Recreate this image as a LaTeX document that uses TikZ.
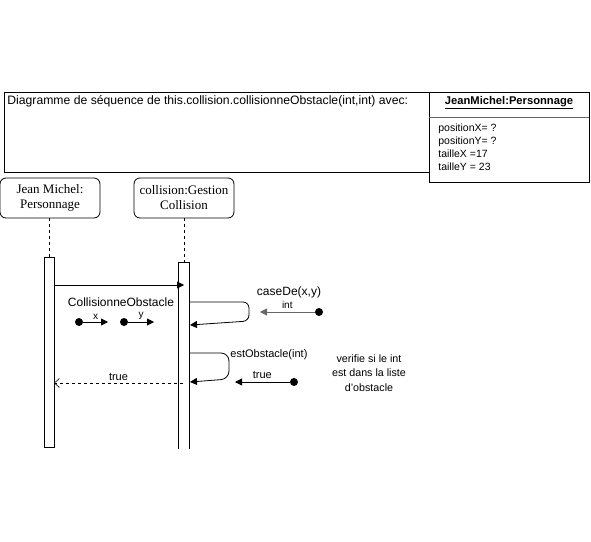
\documentclass[tikz,border=0pt]{standalone}
\usepackage{fontspec}
\setmainfont{Liberation Sans}
\newfontfamily\lifefont{Liberation Serif}
\usetikzlibrary{arrows.meta}

\begin{document}
\begin{tikzpicture}[x = 1pt, y = -1pt, line width = 0.8pt,
                    lifeline/.style = {draw, rounded corners = 6pt, minimum width = 100pt, minimum height = 40pt,
                                       inner sep = 0pt, align = center, font = \lifefont\fontsize{13}{15}\selectfont},
                    bar/.style = {draw, fill = white, minimum width = 10pt, inner sep = 0pt},
                    dot/.style = {circle, fill = black, minimum size = 8pt, inner sep = 0pt},
                    msg/.style = {-{Triangle[length = 7pt, width = 7pt]}},
                    back/.style = {dashed, -{Straight Barb[length = 5pt, width = 9pt, line width = 0.6pt]}},
                    lbl/.style = {font = \fontsize{10}{12}\selectfont, inner sep = 0pt}]
  \useasboundingbox (0, 0) rectangle (591, 541);
  % frame and object box
  \node [draw, minimum width = 425pt, minimum height = 80pt, inner sep = 0pt, anchor = north west] (F) at (4, 92) {};
  \node [anchor = north west, inner sep = 0pt, font = \fontsize{12.2}{14}\selectfont] (Ftitle) at (7, 95)
        {Diagramme de séquence de this.collision.collisionneObstacle(int,int) avec:};
  \node [draw, fill = white, minimum width = 160pt, minimum height = 90pt, inner sep = 0pt, anchor = north west] (Obj) at (429, 92) {};
  \node [inner sep = 0pt, font = \bfseries\fontsize{11.2}{13}\selectfont] (ObjName) at (509, 103) {\underline{JeanMichel:Personnage}};
  \draw [black!60] (Obj.north west) ++(0, 25) -- ++(160, 0);
  \node [anchor = north west, align = left, inner sep = 0pt, font = \fontsize{10.5}{13.3}\selectfont] (ObjAttr) at (438, 123)
        {positionX= ?\\positionY= ?\\tailleX =17\\tailleY = 23};
  % lifelines
  \node [lifeline] (JM) at (50, 198) {Jean Michel:\\Personnage};
  \node [lifeline] (CG) at (184, 198) {collision:Gestion\\Collision};
  \node [bar, minimum height = 190pt] (A1) at (49, 352) {};
  \node [bar, draw = none, minimum height = 186pt] (A2) at (184, 356) {};
  \draw (A2.south west) |- (A2.north east) -- (A2.south east);
  \draw [dashed, line width = 0.6pt] (JM.south -| A1) -- (A1.north);
  \draw [dashed, line width = 0.6pt] (CG.south) -- (A2.north);
  % messages
  \coordinate (M1a) at (54, 285);
  \coordinate (M1b) at (184, 285);
  \draw [msg] (M1a) -- (M1b);
  \node [font = \fontsize{12}{14}\selectfont, inner sep = 0pt] (Call) at (121, 302) {CollisionneObstacle};
  \node [dot] (Dx) at (79, 322) {};
  \node [dot] (Dy) at (124, 322) {};
  \coordinate (Ex) at (108, 322);
  \coordinate (Ey) at (154, 322);
  \draw [msg] (Dx) -- (Ex) node [lbl, midway, above = 2pt] {x};
  \draw [msg] (Dy) -- (Ey) node [lbl, midway, above = 2pt] {y};
  % caseDe
  \coordinate (S1a) at (189, 302);
  \coordinate (S1c) at (249, 321);
  \coordinate (S1b) at (190, 325);
  \draw [msg, rounded corners = 6pt] (S1a) -| (S1c) -- (S1b);
  \node [font = \fontsize{12}{14}\selectfont, inner sep = 0pt] (Case) at (289, 292) {caseDe(x,y)};
  \node [dot] (Dc) at (319, 312) {};
  \coordinate (Ec) at (260, 312);
  \draw [msg, black!60] (Dc) -- (Ec) node [lbl, midway, above = 3pt, black] {int};
  % estObstacle
  \coordinate (S2a) at (189, 353);
  \coordinate (S2c) at (229, 379);
  \coordinate (S2b) at (190, 382);
  \draw [msg, rounded corners = 8pt] (S2a) -| (S2c) -- (S2b);
  \node [lbl, anchor = west, font = \fontsize{11}{13}\selectfont] (Est) at (230, 355) {estObstacle(int)};
  \node [dot] (De) at (294, 382) {};
  \coordinate (Ee) at (235, 382);
  \draw [msg] (De) -- (Ee) node [lbl, midway, above = 3pt, font = \fontsize{11}{13}\selectfont] {true};
  \node [align = center, font = \fontsize{10.7}{14.5}\selectfont, inner sep = 0pt] (Note) at (369, 373)
        {verifie si le int\\est dans la liste\\d'obstacle};
  % return
  \coordinate (R1a) at (183, 383);
  \coordinate (R1b) at (54, 383);
  \draw [back, line width = 0.6pt] (R1a) -- (R1b) node [lbl, midway, above = 2pt, font = \fontsize{11}{13}\selectfont] {true};
\end{tikzpicture}
\end{document}
